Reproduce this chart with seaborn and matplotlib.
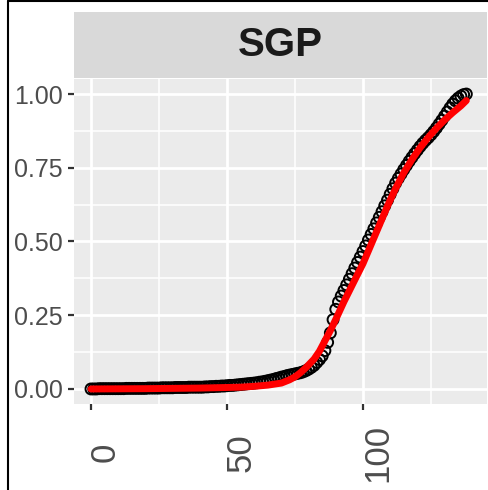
import numpy as np
import pandas as pd
import seaborn as sns
import matplotlib.pyplot as plt
from matplotlib.ticker import MultipleLocator
from matplotlib.lines import Line2D
from matplotlib.transforms import ScaledTranslation

# cumulative share per day (black circles)
days = list(range(0, 139))
share = [0.000, 0.000, 0.000, 0.001, 0.001, 0.001, 0.001, 0.001, 0.001, 0.001,
         0.001, 0.001, 0.001, 0.002, 0.002, 0.002, 0.002, 0.002, 0.002, 0.002,
         0.002, 0.003, 0.003, 0.003, 0.003, 0.003, 0.004, 0.004, 0.004, 0.004,
         0.004, 0.005, 0.005, 0.005, 0.005, 0.005, 0.006, 0.006, 0.006, 0.006,
         0.006, 0.006, 0.007, 0.007, 0.008, 0.008, 0.009, 0.009, 0.010, 0.010,
         0.011, 0.012, 0.012, 0.013, 0.014, 0.015, 0.016, 0.017, 0.018, 0.019,
         0.020, 0.021, 0.023, 0.024, 0.026, 0.028, 0.030, 0.032, 0.035, 0.037,
         0.040, 0.042, 0.045, 0.047, 0.049, 0.051, 0.053, 0.055, 0.058, 0.062,
         0.067, 0.073, 0.080, 0.090, 0.100, 0.112, 0.130, 0.158, 0.190, 0.235,
         0.270, 0.295, 0.315, 0.334, 0.353, 0.372, 0.391, 0.410, 0.429, 0.447,
         0.466, 0.485, 0.505, 0.524, 0.543, 0.563, 0.582, 0.601, 0.621, 0.640,
         0.660, 0.679, 0.698, 0.714, 0.729, 0.744, 0.758, 0.772, 0.785, 0.798,
         0.810, 0.822, 0.833, 0.843, 0.852, 0.862, 0.873, 0.885, 0.898, 0.911,
         0.925, 0.939, 0.953, 0.966, 0.977, 0.986, 0.993, 0.998, 1.000]

# fitted curve (red)
fit_x = [0, 10, 20, 30, 40, 50, 55, 60, 65, 70, 73, 75, 77, 79, 82, 84, 86, 88,
         90, 93, 97, 100, 103, 106, 109, 112, 115, 118, 121, 124, 127, 130, 133,
         136, 138]
fit_y = [0.000, 0.0005, 0.001, 0.002, 0.003, 0.005, 0.006, 0.009, 0.013, 0.020,
         0.031, 0.041, 0.055, 0.072, 0.101, 0.128, 0.163, 0.198,
         0.236, 0.296, 0.370, 0.425, 0.490, 0.555, 0.620, 0.680, 0.733, 0.778,
         0.818, 0.853, 0.884, 0.912, 0.937, 0.960, 0.978]

panel = "SGP"
x_ticks = [0, 50, 100]
y_ticks = [0.00, 0.25, 0.50, 0.75, 1.00]
y_labels = ["0.00", "0.25", "0.50", "0.75", "1.00"]

pts = pd.DataFrame({"day": days, "share": share})
fit = pd.DataFrame({"day": fit_x, "share": fit_y})

sns.set_theme(style="darkgrid")
plt.rcParams["font.family"] = ["Liberation Sans", "DejaVu Sans"]

W, H = 489, 490
fig = plt.figure(figsize=(W / 100, H / 100), dpi=100)
ax = fig.add_axes([74 / W, (H - 404) / H, (487 - 74) / W, (404 - 79) / H])
ax.set_facecolor("#EBEBEB")

sns.scatterplot(data=pts, x="day", y="share", ax=ax, marker="o", s=62,
                facecolor="none", edgecolor="black", linewidth=1.4, zorder=3)
sns.lineplot(data=fit, x="day", y="share", ax=ax, color="red", linewidth=5,
             zorder=4)

ax.set_xlim(-6.25, 145.6)
ax.set_ylim(-0.051, 1.051)
ax.set_xticks(x_ticks)
ax.set_xticklabels([str(t) for t in x_ticks], rotation=90, rotation_mode="anchor",
                   ha="center", va="baseline", fontsize=25, color="#4D4D4D")
ax.set_yticks(y_ticks)
ax.set_yticklabels(y_labels, fontsize=18, color="#4D4D4D")
ax.xaxis.set_minor_locator(MultipleLocator(25))
ax.yaxis.set_minor_locator(MultipleLocator(0.125))
ax.grid(which="major", color="white", linewidth=2.0)
ax.grid(which="minor", color="white", linewidth=1.1)
ax.set_axisbelow(True)
ax.tick_params(axis="y", which="major", left=True, length=4.3, width=1.6,
               color="#333333", pad=4)
ax.tick_params(axis="x", which="major", bottom=True, length=4.0, width=1.6,
               color="#333333", pad=31)
ax.tick_params(which="minor", length=0)
# push the rotated labels so their ink starts at the tick
shift = ScaledTranslation(24 / 100, 0, fig.dpi_scale_trans)
for lbl in ax.get_xticklabels():
    lbl.set_transform(lbl.get_transform() + shift)
ax.set_xlabel("")
ax.set_ylabel("")
for s in ax.spines.values():
    s.set_visible(False)

# facet strip
sax = fig.add_axes([74 / W, (H - 78) / H, (487 - 74) / W, (78 - 12) / H])
sax.set_facecolor("#D9D9D9")
sax.set_xticks([])
sax.set_yticks([])
for s in sax.spines.values():
    s.set_visible(False)
sax.text(0.5, 0.5, panel, ha="center", va="center", fontsize=29,
         fontweight="bold", color="#1A1A1A",
         family=["Liberation Sans Narrow", "Liberation Sans", "DejaVu Sans"],
         transform=sax.transAxes)

# frame left over from the crop
fig.add_artist(Line2D([8 / W, 8 / W], [0, 1 - 1 / H], color="black", linewidth=1.5))
fig.add_artist(Line2D([8 / W, 1], [1 - 1.5 / H, 1 - 1.5 / H], color="black", linewidth=1.5))

fig.savefig("out.png", dpi=100)
